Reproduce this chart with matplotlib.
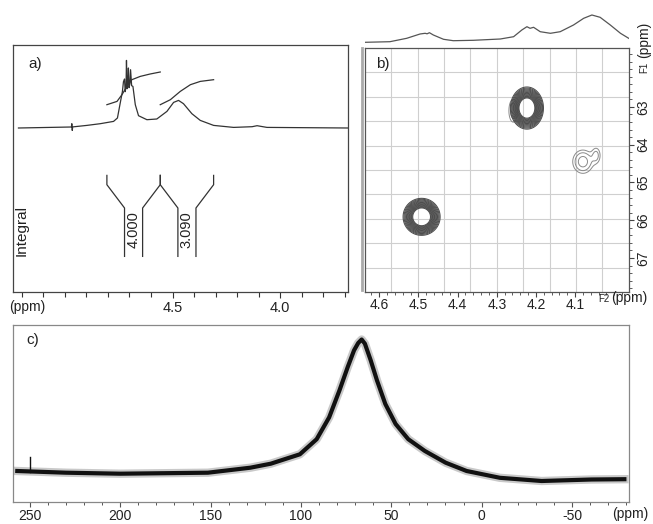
import numpy as np
import matplotlib
matplotlib.use("Agg")
import matplotlib.pyplot as plt
import matplotlib.ticker as mticker
from matplotlib.lines import Line2D

plt.rcParams["font.family"] = ["Liberation Sans", "DejaVu Sans"]
plt.rcParams["axes.unicode_minus"] = False

W, H = 653, 524
INK = "#222222"

# ---- a) 1H spectrum (ppm, intensity) ----
h_ppm = [5.216, 5.069, 4.970, 4.968, 4.966, 4.964, 4.898, 4.836, 4.774, 4.756,
         4.743, 4.733, 4.728, 4.723, 4.720, 4.716, 4.714, 4.711, 4.708, 4.705,
         4.702, 4.698, 4.695, 4.690, 4.684, 4.673, 4.658, 4.619, 4.573, 4.526,
         4.495, 4.472, 4.449, 4.410, 4.371, 4.309, 4.216, 4.130, 4.107, 4.061, 3.681]
h_int = [163.7, 164.3, 164.7, 168.0, 161.3, 164.8, 166.3, 168.0, 170.3, 173.7,
         188.7, 200.0, 210.0, 212.7, 200.0, 205.0, 231.3, 203.0, 208.0, 223.7,
         204.0, 208.0, 222.0, 206.0, 205.3, 187.0, 176.0, 172.0, 172.7, 180.3,
         189.3, 191.3, 188.0, 178.0, 171.3, 166.3, 164.3, 165.0, 166.0, 164.3, 163.7]

integ1_ppm = [4.805, 4.758, 4.735, 4.712, 4.689, 4.650, 4.604, 4.557]
integ1_val = [187.0, 190.3, 197.0, 205.3, 212.0, 215.3, 217.7, 219.7]
integ2_ppm = [4.557, 4.510, 4.464, 4.417, 4.371, 4.309]
integ2_val = [187.0, 192.0, 200.3, 207.0, 210.3, 212.0]

int_regions = [(4.805, 4.557), (4.557, 4.309)]
int_values = ["4.000", "3.090"]

# ---- b) HSQC: F2 projection and cross peaks ----
proj_ppm = [4.636, 4.573, 4.530, 4.496, 4.483, 4.478, 4.472, 4.462, 4.436, 4.411,
            4.360, 4.291, 4.257, 4.236, 4.223, 4.215, 4.206, 4.189, 4.163, 4.138,
            4.104, 4.078, 4.057, 4.036, 4.010, 3.984, 3.963]
proj_int = [5.7, 6.3, 9.7, 14.0, 14.7, 14.2, 15.3, 13.0, 8.7, 7.3,
            7.7, 9.0, 11.3, 18.0, 21.3, 19.7, 20.7, 16.3, 14.7, 16.3,
            23.0, 29.7, 33.0, 30.7, 23.0, 14.7, 9.7]

strong_f2 = [4.492, 4.223]
strong_f1 = [65.91, 63.03]
strong_w2 = [0.028, 0.025]
strong_w1 = [0.29, 0.33]

weak_f2 = [4.080, 4.046, 4.258]
weak_f1 = [64.45, 64.28, 63.10]
weak_amp = [0.13, 0.07, 0.09]
weak_w2 = [0.016, 0.008, 0.008]
weak_w1 = [0.19, 0.15, 0.22]

# ---- c) broad spectrum (ppm, intensity) ----
c_ppm = [257.0, 230.0, 200.0, 151.5, 128.0, 116.7, 100.6, 91.3, 84.4, 78.7,
         74.1, 70.6, 68.3, 66.4, 64.6, 61.4, 57.9, 53.3, 47.6, 40.6,
         31.4, 19.9, 8.3, -10.1, -33.2, -60.8, -79.0]
c_int = [30.7, 29.0, 28.0, 29.0, 34.0, 38.0, 47.4, 62.5, 84.3, 111.2,
         134.7, 151.4, 158.7, 162.2, 158.0, 141.4, 121.2, 97.7, 77.7, 62.5,
         50.7, 39.0, 30.7, 23.9, 20.7, 22.2, 22.5]
spike_ppm = [250.0, 250.0]
spike_int = [30.0, 45.0]


def px_axes(fig, x0, y0, x1, y1):
    return fig.add_axes([x0 / W, 1 - y1 / H, (x1 - x0) / W, (y1 - y0) / H])


def style_box(ax, color):
    for s in ax.spines.values():
        s.set_color(color)
        s.set_linewidth(0.9)


fig = plt.figure(figsize=(W / 100, H / 100), dpi=100, facecolor="white")

# ---------------- panel a ----------------
ax_a = px_axes(fig, 13.3, 45, 348.3, 291.7)
ax_a.plot(h_ppm, h_int, color="#333333", lw=0.9)
ax_a.plot(integ1_ppm, integ1_val, color="#333333", lw=0.9)
ax_a.plot(integ2_ppm, integ2_val, color="#333333", lw=0.9)

inset = 0.082
for (lo, hi), lab in zip(int_regions, int_values):
    a_in, b_in = lo - inset, hi + inset
    ax_a.plot([lo, lo, a_in, a_in], [116.3, 107, 83.7, 35.3], color="#333333", lw=0.9)
    ax_a.plot([b_in, b_in, hi, hi], [35.3, 83.7, 107, 116.3], color="#333333", lw=0.9)
    ax_a.text((a_in + b_in) / 2, 62, lab, rotation=90, ha="center", va="center",
              fontsize=10.5, color=INK)

ax_a.set_xlim(5.24, 3.683)
ax_a.set_ylim(0, 246.7)
ax_a.set_yticks([])
ax_a.set_xticks([4.5, 4.0])
ax_a.xaxis.set_major_formatter(mticker.FormatStrFormatter("%.1f"))
ax_a.xaxis.set_minor_locator(mticker.MultipleLocator(0.1))
ax_a.tick_params(axis="x", which="major", direction="out", length=4, width=0.8,
                 colors="#333333", labelsize=10.5, pad=3, labelcolor=INK)
ax_a.tick_params(axis="x", which="minor", direction="out", length=3.5, width=0.8,
                 colors="#333333")
style_box(ax_a, "#444444")
ax_a.text(0.044, 0.925, "a)", transform=ax_a.transAxes, fontsize=11, color=INK,
          ha="left", va="center")
ax_a.text(0.026, 0.25, "Integral", transform=ax_a.transAxes, rotation=90,
          fontsize=11, color=INK, ha="center", va="center")
fig.text(9 / W, 1 - 307 / H, "(ppm)", fontsize=10, color=INK, ha="left", va="center")

# ---------------- panel b ----------------
ax_b = px_axes(fig, 365, 48, 628.7, 292)
xl = (4.6366, 3.963)
yl = (67.90, 61.44)
ax_b.set_xlim(*xl)
ax_b.set_ylim(*yl)
for k in range(1, 10):
    ax_b.axvline(xl[0] + (xl[1] - xl[0]) * k / 10, color="#cfcfcf", lw=0.8, zorder=0)
    ax_b.axhline(yl[0] + (yl[1] - yl[0]) * k / 10, color="#cfcfcf", lw=0.8, zorder=0)

gx = np.linspace(4.64, 3.96, 400)
gy = np.linspace(61.4, 67.95, 400)
GX, GY = np.meshgrid(gx, gy)
Zs = np.zeros_like(GX)
for f2, f1, w2, w1 in zip(strong_f2, strong_f1, strong_w2, strong_w1):
    Zs += np.exp(-0.5 * (((GX - f2) / w2) ** 2 + ((GY - f1) / w1) ** 2))
Zw = np.zeros_like(GX)
for f2, f1, a, w2, w1 in zip(weak_f2, weak_f1, weak_amp, weak_w2, weak_w1):
    Zw += a * np.exp(-0.5 * (((GX - f2) / w2) ** 2 + ((GY - f1) / w1) ** 2))
ax_b.contour(GX, GY, Zw, levels=[0.035, 0.06, 0.1], colors="#8a8a8a", linewidths=0.7)
ax_b.contour(GX, GY, Zs, levels=np.linspace(0.24, 0.72, 14), colors="#4d4d4d",
             linewidths=0.75)

ax_b.set_xticks([4.6, 4.5, 4.4, 4.3, 4.2, 4.1])
ax_b.xaxis.set_major_formatter(mticker.FormatStrFormatter("%.1f"))
ax_b.xaxis.set_minor_locator(mticker.MultipleLocator(0.02))
ax_b.yaxis.tick_right()
ax_b.set_yticks([63, 64, 65, 66, 67])
ax_b.yaxis.set_minor_locator(mticker.MultipleLocator(0.2))
ax_b.tick_params(which="major", direction="out", length=3.5, width=0.8,
                 colors="#444444", labelsize=10, labelcolor=INK)
ax_b.tick_params(which="minor", direction="out", length=2, width=0.6, colors="#444444")
ax_b.tick_params(axis="x", pad=1)
ax_b.tick_params(axis="y", pad=2, labelrotation=90)
for t in ax_b.get_yticklabels():
    t.set_va("center")
style_box(ax_b, "#555555")
ax_b.text(0.04, 0.935, "b)", transform=ax_b.transAxes, fontsize=11, color=INK,
          ha="left", va="center")
fig.text(598 / W, 1 - 299 / H, "F2", fontsize=7, color=INK, ha="left", va="center")
fig.text(611 / W, 1 - 298 / H, "(ppm)", fontsize=10, color=INK, ha="left", va="center")
fig.text(644 / W, 1 - 67 / H, "F1", fontsize=7, color=INK, ha="center", va="center",
         rotation=90)
fig.text(644 / W, 1 - 40 / H, "(ppm)", fontsize=10, color=INK, ha="center",
         va="center", rotation=90)
fig.add_artist(Line2D([362.3 / W, 362.3 / W], [1 - 48 / H, 1 - 290 / H],
                      transform=fig.transFigure, color="#aaaaaa", lw=2))

# F2 projection above panel b
ax_p = px_axes(fig, 365, 0, 628.7, 48)
ax_p.plot(proj_ppm, proj_int, color="#555555", lw=0.9)
ax_p.set_xlim(*xl)
ax_p.set_ylim(0, 48)
ax_p.axis("off")

# ---------------- panel c ----------------
ax_c = px_axes(fig, 13.3, 325, 628.7, 501.7)
ax_c.plot(c_ppm, c_int, color="#666666", lw=6.0, alpha=0.35, solid_joinstyle="round")
ax_c.plot(c_ppm, c_int, color="#111111", lw=3.0, solid_joinstyle="round")
ax_c.plot(spike_ppm, spike_int, color="#111111", lw=1.0)
ax_c.set_xlim(259.2, -81.4)
ax_c.set_ylim(0, 176.7)
ax_c.set_yticks([])
ax_c.set_xticks([250, 200, 150, 100, 50, 0, -50])
ax_c.xaxis.set_minor_locator(mticker.MultipleLocator(10))
ax_c.tick_params(axis="x", which="major", direction="out", length=3.5, width=0.8,
                 colors="#555555", labelsize=10, labelcolor=INK, pad=2)
ax_c.tick_params(axis="x", which="minor", direction="out", length=2.5, width=0.7,
                 colors="#555555")
style_box(ax_c, "#888888")
ax_c.text(0.022, 0.915, "c)", transform=ax_c.transAxes, fontsize=11, color=INK,
          ha="left", va="center")
fig.text(612 / W, 1 - 514 / H, "(ppm)", fontsize=10, color=INK, ha="left", va="center")

fig.savefig("out.png", dpi=100, facecolor="white")
